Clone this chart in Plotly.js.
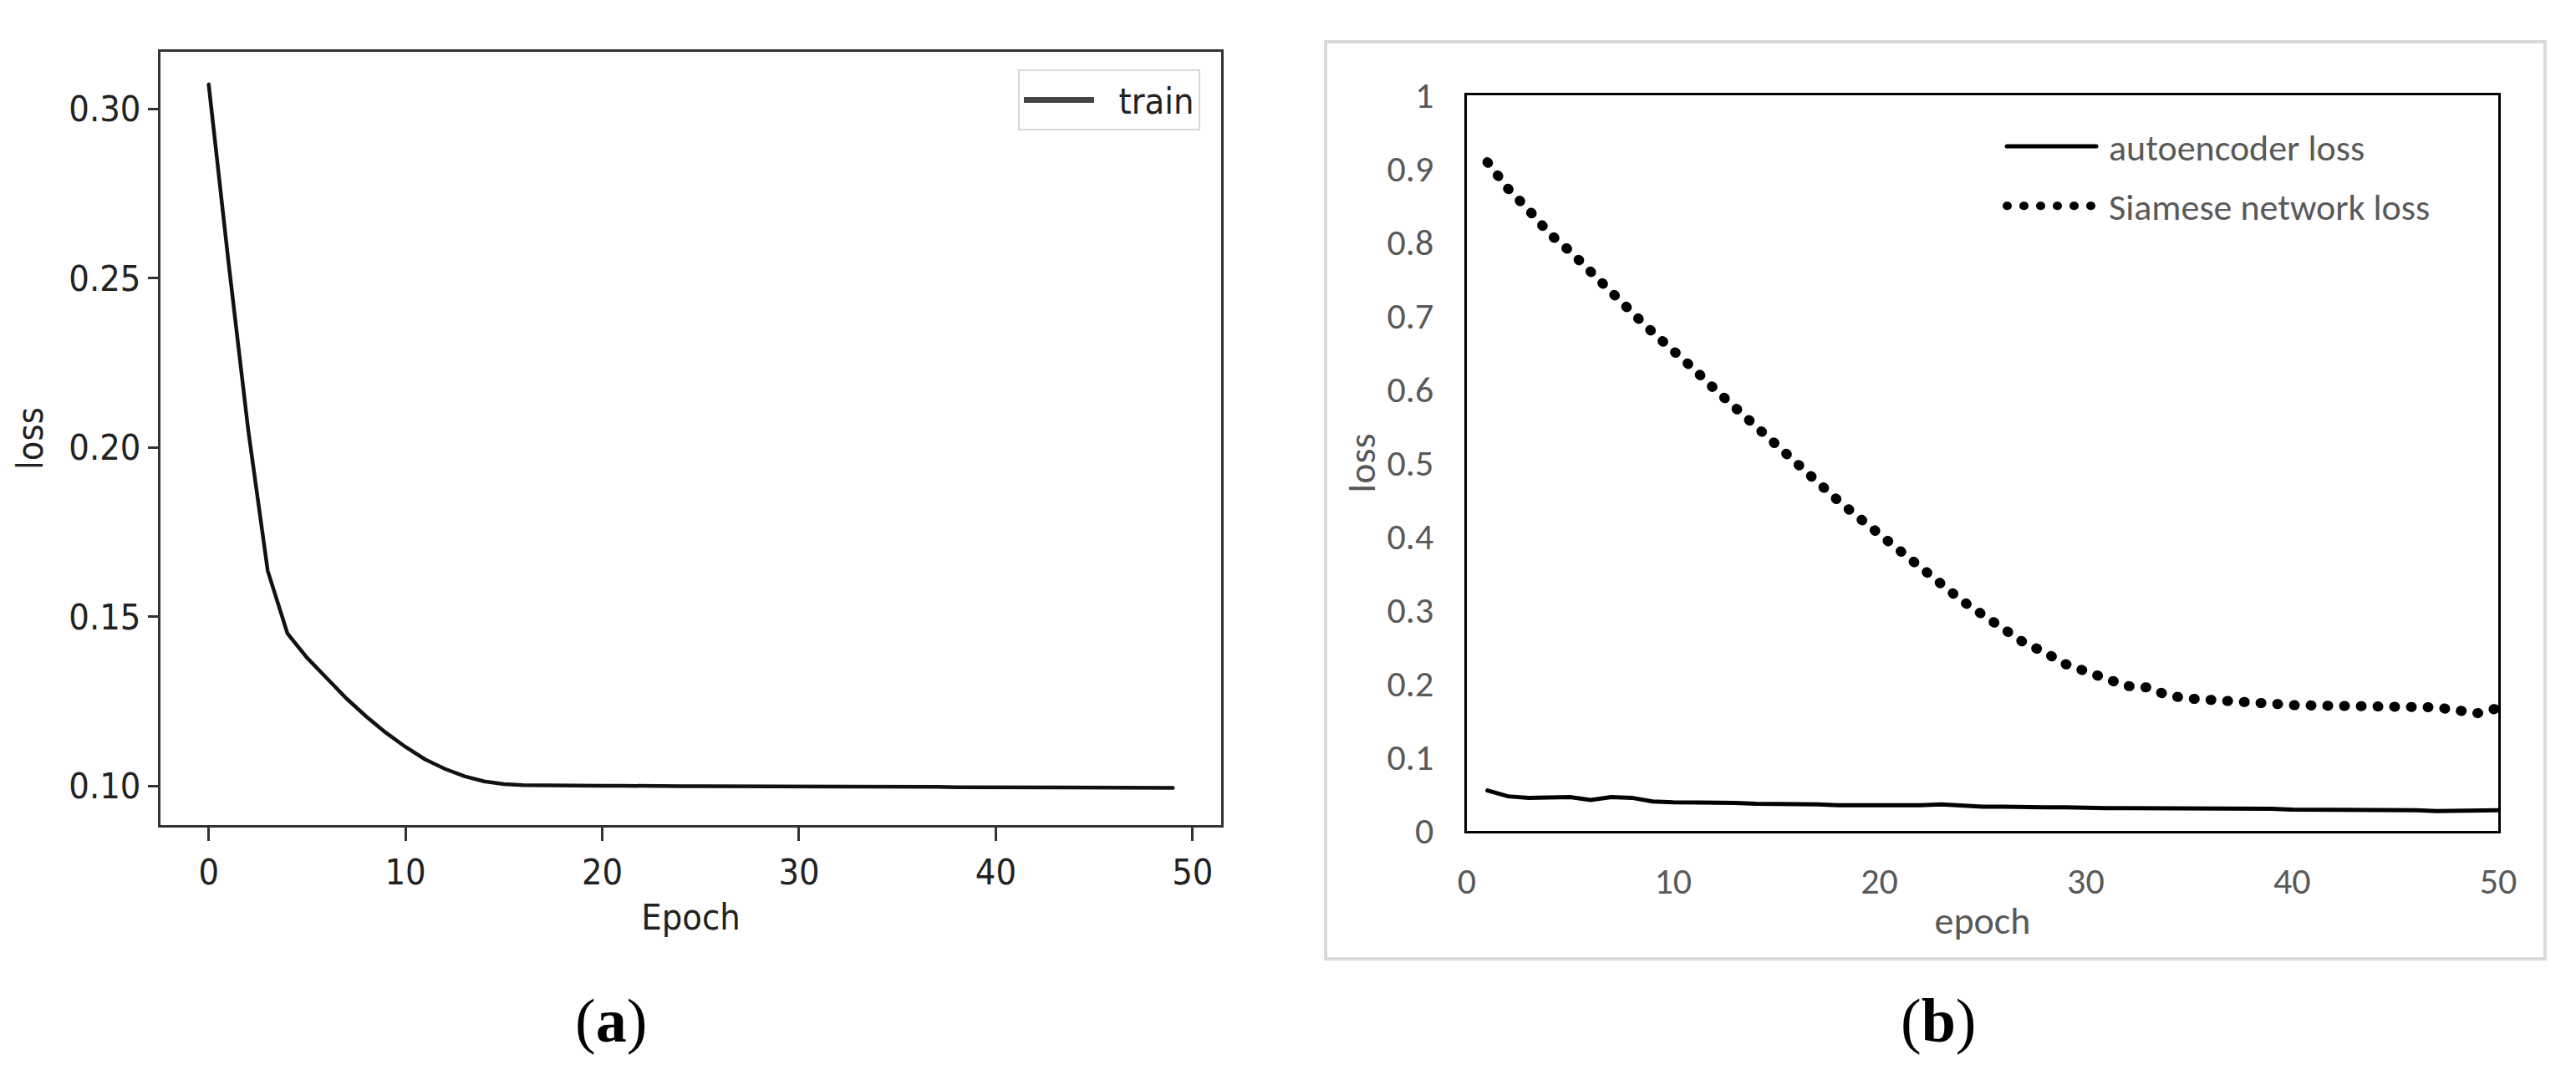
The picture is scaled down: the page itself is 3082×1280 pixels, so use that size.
<!DOCTYPE html>
<html>
<head>
<meta charset="utf-8">
<script src="https://cdn.plot.ly/plotly-3.0.1.min.js"></script>
<style>
  html, body { margin: 0; padding: 0; background: #fff; }
  #chart { width: 3082px; height: 1280px; }
  .scatterlayer .trace path.js-line, .legend2 path.js-line { stroke-linecap: round; }
  .legend path.js-line { stroke-width: 7px !important; stroke: #444444 !important; }
</style>
</head>
<body>
<div id="chart"></div>
<script>
// ---- Panel (a): training loss (matplotlib style) ----
const trainEpoch = [0,1,2,3,4,5,6,7,8,9,10,11,12,13,14,15,16,17,18,19,20,21,22,23,24,25,26,27,28,29,30,31,32,33,34,35,36,37,38,39,40,41,42,43,44,45,46,47,48,49];
const trainLoss = [0.3072,0.2550,0.2055,0.1635,0.1450,0.1378,0.1318,0.1258,0.1205,0.1157,
                   0.1115,0.1078,0.1050,0.1028,0.1013,0.1005,0.1002,0.1001,0.1000,0.1000,
                   0.1000,0.1000,0.0999,0.0999,0.0999,0.0999,0.0999,0.0998,0.0998,0.0998,
                   0.0998,0.0998,0.0998,0.0997,0.0997,0.0997,0.0997,0.0997,0.0996,0.0996,
                   0.0996,0.0996,0.0996,0.0995,0.0995,0.0995,0.0995,0.0995,0.0995,0.0994];
const aXTicks = [0,10,20,30,40,50];
const aYTicks = [0.10,0.15,0.20,0.25,0.30];

// ---- Panel (b): autoencoder vs Siamese loss (Excel style) ----
const epochB = [1,2,3,4,5,6,7,8,9,10,11,12,13,14,15,16,17,18,19,20,21,22,23,24,25,26,27,28,29,30,31,32,33,34,35,36,37,38,39,40,41,42,43,44,45,46,47,48,49,50];
const autoencoderLoss = [0.055,0.047,0.045,0.045,0.046,0.042,0.046,0.045,0.040,0.039,
                         0.039,0.039,0.038,0.037,0.037,0.037,0.036,0.035,0.035,0.034,
                         0.035,0.035,0.036,0.034,0.033,0.033,0.032,0.032,0.032,0.031,
                         0.031,0.031,0.031,0.030,0.030,0.030,0.030,0.030,0.030,0.029,
                         0.029,0.029,0.028,0.028,0.028,0.028,0.027,0.027,0.027,0.028];
const siameseLoss = [0.909,0.873,0.844,0.812,0.788,0.759,0.733,0.705,0.678,0.654,
                     0.628,0.601,0.575,0.549,0.523,0.498,0.474,0.449,0.426,0.403,
                     0.382,0.357,0.335,0.313,0.294,0.274,0.256,0.243,0.227,0.217,
                     0.207,0.197,0.195,0.184,0.180,0.179,0.177,0.176,0.173,0.171,
                     0.171,0.170,0.170,0.170,0.169,0.169,0.168,0.164,0.160,0.167];
const bXTicks = [0,10,20,30,40,50];
const bYTicks = [0,0.1,0.2,0.3,0.4,0.5,0.6,0.7,0.8,0.9,1];
const bYTickText = ['0','0.1','0.2','0.3','0.4','0.5','0.6','0.7','0.8','0.9','1'];

const W = 3082, H = 1280;
const px = v => v / W;
const py = v => 1 - v / H;

const fontA = '"DejaVu Sans Condensed", "DejaVu Sans", sans-serif';
const fontB = 'Carlito, Lato, "Open Sans", sans-serif';
const greyB = '#595959';
const NB = '\u00a0';

const traces = [
  { x: trainEpoch, y: trainLoss, type: 'scatter', mode: 'lines', name: NB + NB + 'train',
    xaxis: 'x', yaxis: 'y', legend: 'legend',
    line: { color: '#111111', width: 4.5 } },
  { x: epochB, y: autoencoderLoss, type: 'scatter', mode: 'lines', name: NB + 'autoencoder loss',
    xaxis: 'x2', yaxis: 'y2', legend: 'legend2', legendgroup: 'g1',
    line: { color: '#000000', width: 5 } },
  { x: epochB, y: siameseLoss, type: 'scatter', mode: 'lines', name: NB + 'Siamese network loss',
    xaxis: 'x2', yaxis: 'y2', legend: 'legend2', legendgroup: 'g2',
    line: { color: '#000000', width: 12, dash: '1px,19px' } }
];

const layout = {
  width: W, height: H,
  margin: { l: 0, r: 0, t: 0, b: 0 },
  paper_bgcolor: '#ffffff', plot_bgcolor: '#ffffff',
  showlegend: true,
  xaxis: {
    domain: [px(192), px(1461)], anchor: 'y',
    range: [-2.45, 51.45], tickvals: aXTicks, ticktext: aXTicks.map(String),
    showgrid: false, zeroline: false,
    showline: true, mirror: true, linecolor: '#333333', linewidth: 3,
    ticks: 'outside', ticklen: 16, tickwidth: 3, tickcolor: '#333333',
    tickfont: { family: fontA, size: 43, color: '#222222' },
    title: { text: 'Epoch', font: { family: fontA, size: 43, color: '#222222' }, standoff: 16 },
    automargin: false
  },
  yaxis: {
    domain: [py(987), py(62)], anchor: 'x',
    range: [0.0884, 0.3168], tickvals: aYTicks, ticktext: aYTicks.map(v => v.toFixed(2)),
    showgrid: false, zeroline: false,
    showline: true, mirror: true, linecolor: '#333333', linewidth: 3,
    ticks: 'outside', ticklen: 12, tickwidth: 3, tickcolor: '#333333',
    tickfont: { family: fontA, size: 43, color: '#222222' },
    title: { text: 'loss', font: { family: fontA, size: 43, color: '#222222' }, standoff: 18 },
    automargin: false
  },
  xaxis2: {
    domain: [px(1755), px(2989)], anchor: 'y2',
    range: [0, 50], tickvals: bXTicks, ticktext: bXTicks.map(String),
    showgrid: false, zeroline: false,
    showline: true, mirror: true, linecolor: '#000000', linewidth: 3,
    ticks: '', ticklabelstandoff: 19,
    tickfont: { family: fontB, size: 44, color: greyB },
    title: { text: 'epoch', font: { family: fontB, size: 46, color: greyB }, standoff: 6 },
    automargin: false
  },
  yaxis2: {
    domain: [py(994), py(114)], anchor: 'x2',
    range: [0, 1], tickvals: bYTicks, ticktext: bYTickText,
    showgrid: false, zeroline: false,
    showline: true, mirror: true, linecolor: '#000000', linewidth: 3,
    ticks: '', ticklabelstandoff: 28,
    tickfont: { family: fontB, size: 44, color: greyB },
    title: { text: 'loss', font: { family: fontB, size: 46, color: greyB }, standoff: 0 },
    automargin: false
  },
  legend: {
    x: px(1218), y: py(83), xanchor: 'left', yanchor: 'top',
    bgcolor: '#ffffff', bordercolor: '#d9d9d9', borderwidth: 2,
    font: { family: fontA, size: 43, color: '#222222' },
    itemwidth: 84
  },
  legend2: {
    x: px(2396), y: py(140), xanchor: 'left', yanchor: 'top',
    bgcolor: 'rgba(0,0,0,0)', borderwidth: 0,
    font: { family: fontB, size: 44, color: greyB },
    itemwidth: 107, tracegroupgap: 11, traceorder: 'grouped'
  },
  shapes: [
    { type: 'rect', xref: 'paper', yref: 'paper', layer: 'below',
      x0: px(1586), x1: px(3045), y0: py(1147), y1: py(50),
      line: { color: '#d9d9d9', width: 4 }, fillcolor: 'rgba(0,0,0,0)' }
  ],
  annotations: [
    { xref: 'paper', yref: 'paper', x: px(731), y: py(1221), xanchor: 'center', yanchor: 'middle',
      text: '(<b>a</b>)', showarrow: false,
      font: { family: '"Liberation Serif", "DejaVu Serif", serif', size: 74, color: '#000000' } },
    { xref: 'paper', yref: 'paper', x: px(2319), y: py(1221), xanchor: 'center', yanchor: 'middle',
      text: '(<b>b</b>)', showarrow: false,
      font: { family: '"Liberation Serif", "DejaVu Serif", serif', size: 74, color: '#000000' } }
  ]
};

Plotly.newPlot('chart', traces, layout, { staticPlot: true, displayModeBar: false });
</script>
</body>
</html>
